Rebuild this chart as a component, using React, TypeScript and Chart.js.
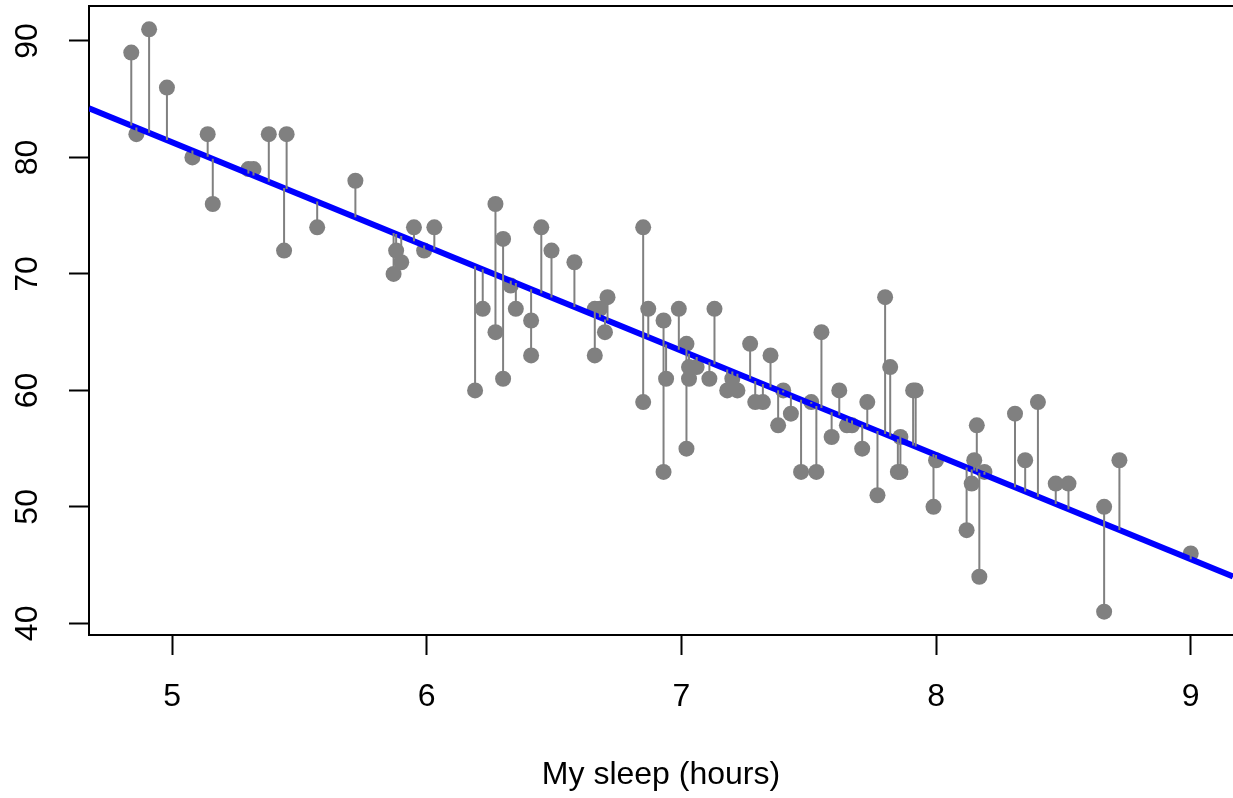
import React, { useEffect, useRef } from "react";
import { Chart, registerables } from "chart.js";

Chart.register(...registerables);

// Hours slept (x) and grumpiness (y)
const SLEEP: number[] = [
  4.84, 4.86, 4.91, 4.98, 5.08, 5.14, 5.16, 5.3, 5.32, 5.38,
  5.44, 5.45, 5.57, 5.72, 5.87, 5.88, 5.9, 5.95, 5.99, 6.03,
  6.19, 6.22, 6.27, 6.27, 6.3, 6.3, 6.33, 6.35, 6.41, 6.41,
  6.45, 6.49, 6.58, 6.66, 6.66, 6.68, 6.7, 6.71, 6.85, 6.85,
  6.87, 6.93, 6.94, 6.93, 6.99, 7.02, 7.03, 7.03, 7.02, 7.06,
  7.11, 7.13, 7.18, 7.2, 7.22, 7.27, 7.35, 7.29, 7.32, 7.38,
  7.4, 7.43, 7.47, 7.53, 7.51, 7.55, 7.62, 7.59, 7.65, 7.67,
  7.71, 7.73, 7.77, 7.8, 7.82, 7.86, 7.85, 7.86, 7.91, 7.92,
  8.0, 7.99, 8.16, 8.15, 8.19, 8.14, 8.12, 8.17, 8.31, 8.35,
  8.4, 8.47, 8.52, 8.66, 8.66, 8.72, 9.0,
];
const GRUMP: number[] = [
  89, 82, 91, 86, 80, 82, 76, 79, 79, 82,
  72, 82, 74, 78, 70, 72, 71, 74, 72, 74,
  60, 67, 76, 65, 73, 61, 69, 67, 66, 63,
  74, 72, 71, 63, 67, 67, 65, 68, 74, 59,
  67, 66, 61, 53, 67, 64, 62, 61, 55, 62,
  61, 67, 60, 61, 60, 64, 63, 59, 59, 57,
  60, 58, 53, 53, 59, 65, 60, 56, 57, 57,
  55, 59, 51, 68, 62, 56, 53, 53, 60, 60,
  54, 50, 57, 54, 53, 52, 48, 44, 58, 54,
  59, 52, 52, 50, 41, 54, 46,
];

const X_TICKS: number[] = [5, 6, 7, 8, 9];
const Y_TICKS: number[] = [40, 50, 60, 70, 80, 90];
const X_MIN = 4.674;
const X_MAX = 9.166;
const Y_MIN = 39;
const Y_MAX = 93;
const X_TITLE = "My sleep (hours)";

const FONT_FAMILY = "'Liberation Sans', Arial, Helvetica, sans-serif";

function fitLine(xs: number[], ys: number[]) {
  const n = xs.length;
  let sx = 0, sy = 0;
  for (let i = 0; i < n; i++) { sx += xs[i]; sy += ys[i]; }
  const mx = sx / n, my = sy / n;
  let sxy = 0, sxx = 0;
  for (let i = 0; i < n; i++) {
    sxy += (xs[i] - mx) * (ys[i] - my);
    sxx += (xs[i] - mx) * (xs[i] - mx);
  }
  const slope = sxy / sxx;
  return { slope, intercept: my - slope * mx };
}

const topBorder = {
  id: "topBorder",
  afterDraw(chart: any) {
    const { ctx, chartArea } = chart;
    ctx.save();
    ctx.strokeStyle = "#000";
    ctx.lineWidth = 2;
    ctx.beginPath();
    ctx.moveTo(chartArea.left, chartArea.top);
    ctx.lineTo(chartArea.right, chartArea.top);
    ctx.stroke();
    ctx.restore();
  },
};

export default function App() {
  const ref = useRef<HTMLCanvasElement | null>(null);

  useEffect(() => {
    if (!ref.current) return;
    const { slope, intercept } = fitLine(SLEEP, GRUMP);
    const pts = SLEEP.map((x, i) => ({ x, y: GRUMP[i] }));
    const resid: any[] = [];
    SLEEP.forEach((x, i) => {
      resid.push({ x, y: intercept + slope * x });
      resid.push({ x, y: GRUMP[i] });
      resid.push({ x, y: null });
    });
    const fit = [
      { x: X_MIN, y: intercept + slope * X_MIN },
      { x: X_MAX, y: intercept + slope * X_MAX },
    ];

    const chart = new Chart(ref.current, {
      type: "scatter",
      data: {
        datasets: [
          {
            data: resid,
            showLine: true,
            spanGaps: false,
            borderColor: "#808080",
            borderWidth: 2,
            pointRadius: 0,
            order: 0,
          } as any,
          {
            data: fit,
            showLine: true,
            borderColor: "#0000FF",
            borderWidth: 6,
            pointRadius: 0,
            order: 1,
          } as any,
          {
            data: pts,
            backgroundColor: "#808080",
            borderWidth: 0,
            pointRadius: 8,
            order: 2,
          } as any,
        ],
      },
      options: {
        responsive: false,
        animation: false,
        events: [],
        layout: { autoPadding: false, padding: { top: 6, left: 0, right: 0, bottom: 0 } },
        plugins: { legend: { display: false }, tooltip: { enabled: false } },
        scales: {
          x: {
            type: "linear",
            min: X_MIN,
            max: X_MAX,
            afterBuildTicks: (s: any) => { s.ticks = X_TICKS.map((v) => ({ value: v })); },
            afterFit: (s: any) => {
              s.height = 163;
              s.paddingLeft = 0;
              s.paddingRight = 0;
            },
            grid: {
              display: true,
              drawOnChartArea: false,
              drawTicks: true,
              tickLength: 20,
              tickWidth: 2,
              tickColor: "#000",
            },
            border: { display: true, color: "#000", width: 2 },
            ticks: {
              color: "#000",
              padding: 23,
              maxRotation: 0,
              font: { family: FONT_FAMILY, size: 32 },
            },
            title: {
              display: true,
              text: X_TITLE,
              color: "#000",
              padding: { top: 0, bottom: 4 },
              font: { family: FONT_FAMILY, size: 32 },
            },
          },
          y: {
            type: "linear",
            min: Y_MIN,
            max: Y_MAX,
            afterBuildTicks: (s: any) => { s.ticks = Y_TICKS.map((v) => ({ value: v })); },
            afterFit: (s: any) => {
              s.width = 89;
              s.paddingTop = 0;
              s.paddingBottom = 0;
            },
            grid: {
              display: true,
              drawOnChartArea: false,
              drawTicks: true,
              tickLength: 20,
              tickWidth: 2,
              tickColor: "#000",
            },
            border: { display: true, color: "#000", width: 2 },
            ticks: {
              color: "#000",
              padding: 23,
              minRotation: 90,
              maxRotation: 90,
              crossAlign: "center",
              font: { family: FONT_FAMILY, size: 32 },
            },
          },
        },
      },
      plugins: [topBorder],
    } as any);
    return () => chart.destroy();
  }, []);

  return (
    <div style={{ position: "fixed", left: 0, top: 0, width: 1233, height: 798, background: "#fff" }}>
      <canvas ref={ref} width={1233} height={798} style={{ display: "block" }} />
    </div>
  );
}
